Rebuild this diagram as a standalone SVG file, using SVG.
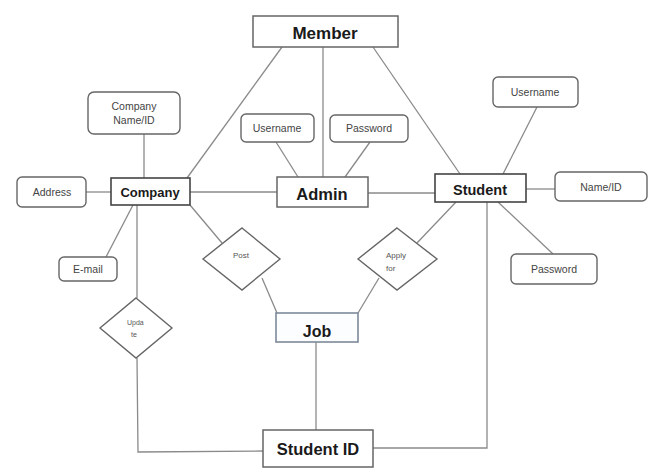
<svg xmlns="http://www.w3.org/2000/svg" width="655" height="471" viewBox="0 0 655 471">
<style>
.ent{fill:#fff;stroke:#666;stroke-width:1.5}
.ent2{fill:#fff;stroke:#444;stroke-width:1.6}
.att{fill:#fff;stroke:#666;stroke-width:1.4}
.rel{fill:#fff;stroke:#666;stroke-width:1.4}
.ln{fill:none;stroke:#8a8a8a;stroke-width:1.3}
.et{font-family:"Liberation Sans",Arial,sans-serif;font-weight:bold;fill:#1a1a1a;text-anchor:middle}
.at{font-family:"Liberation Sans",Arial,sans-serif;font-size:10.5px;fill:#444;text-anchor:middle}
.rt{font-family:"Liberation Sans",Arial,sans-serif;fill:#555}
</style>
<rect width="655" height="471" fill="#fff"/>
<g id="connectors">
<line class="ln" x1="282" y1="47" x2="187" y2="178"/>
<line class="ln" x1="323" y1="47" x2="323" y2="177"/>
<line class="ln" x1="373" y1="47" x2="460" y2="174"/>
<line class="ln" x1="144" y1="134" x2="144" y2="178"/>
<line class="ln" x1="86" y1="192" x2="111" y2="192"/>
<line class="ln" x1="190" y1="192" x2="277" y2="192"/>
<line class="ln" x1="276" y1="142" x2="298" y2="177"/>
<line class="ln" x1="370" y1="142" x2="345" y2="177"/>
<line class="ln" x1="368" y1="193" x2="435" y2="193"/>
<line class="ln" x1="537" y1="107" x2="503" y2="174"/>
<line class="ln" x1="526" y1="189" x2="555" y2="189"/>
<line class="ln" x1="498" y1="202" x2="553" y2="254"/>
<line class="ln" x1="456" y1="202" x2="417" y2="243"/>
<polyline class="ln" points="487,202 487,448 373,448"/>
<line class="ln" x1="190" y1="205" x2="222" y2="243"/>
<line class="ln" x1="262" y1="278" x2="277" y2="313"/>
<line class="ln" x1="379" y1="278" x2="358" y2="313"/>
<line class="ln" x1="133" y1="205" x2="106" y2="257"/>
<line class="ln" x1="137" y1="205" x2="137" y2="298"/>
<polyline class="ln" points="137,358 138,452 263,451"/>
<line class="ln" x1="316" y1="342" x2="316" y2="430"/>
</g>
<g id="member"><rect class="ent" x="253" y="16" width="145" height="31"/><text class="et" x="325" y="39" font-size="17">Member</text></g>
<g id="company-name-id"><rect class="att" x="88" y="92" width="92" height="42" rx="6"/><text class="at" x="134" y="110">Company</text><text class="at" x="134" y="124">Name/ID</text></g>
<g id="address"><rect class="att" x="17" y="177" width="69" height="30" rx="5"/><text class="at" x="52" y="196">Address</text></g>
<g id="company"><rect class="ent2" x="111" y="178" width="79" height="27"/><text class="et" x="150" y="197" font-size="13">Company</text></g>
<g id="admin-username"><rect class="att" x="241" y="114" width="73" height="28" rx="5"/><text class="at" x="277" y="132">Username</text></g>
<g id="admin-password"><rect class="att" x="330" y="115" width="78" height="27" rx="5"/><text class="at" x="369" y="132">Password</text></g>
<g id="admin"><rect class="ent" x="277" y="177" width="91" height="30"/><text class="et" x="322" y="200" font-size="16.5">Admin</text></g>
<g id="student"><rect class="ent2" x="435" y="174" width="91" height="28"/><text class="et" x="480" y="195" font-size="14.5">Student</text></g>
<g id="student-username"><rect class="att" x="493" y="77" width="85" height="30" rx="5"/><text class="at" x="535" y="96">Username</text></g>
<g id="name-id"><rect class="att" x="555" y="172" width="92" height="29" rx="5"/><text class="at" x="601" y="191">Name/ID</text></g>
<g id="student-password"><rect class="att" x="511" y="254" width="86" height="30" rx="5"/><text class="at" x="554" y="273">Password</text></g>
<g id="email"><rect class="att" x="59" y="257" width="58" height="24" rx="5"/><text class="at" x="88" y="273">E-mail</text></g>
<g id="post"><polygon class="rel" points="242,228 280,259 242,290 203,259"/><text class="rt" x="241" y="258" font-size="8" text-anchor="middle">Post</text></g>
<g id="apply-for"><polygon class="rel" points="397,228 437,259 397,290 358,259"/><text class="rt" x="386" y="258" font-size="8">Apply</text><text class="rt" x="386" y="271" font-size="8">for</text></g>
<g id="update"><polygon class="rel" points="136,298 172,328 136,358 100,328"/><text class="rt" x="127" y="325" font-size="7">Upda</text><text class="rt" x="131" y="337" font-size="7">te</text></g>
<g id="job"><rect x="276" y="313" width="82" height="29" fill="#fcfdfe" stroke="#7c8a99" stroke-width="1.6"/><text class="et" x="317" y="337" font-size="16">Job</text></g>
<g id="student-id"><rect class="ent" x="263" y="430" width="110" height="37"/><text class="et" x="318" y="455" font-size="16.5">Student ID</text></g>
</svg>
